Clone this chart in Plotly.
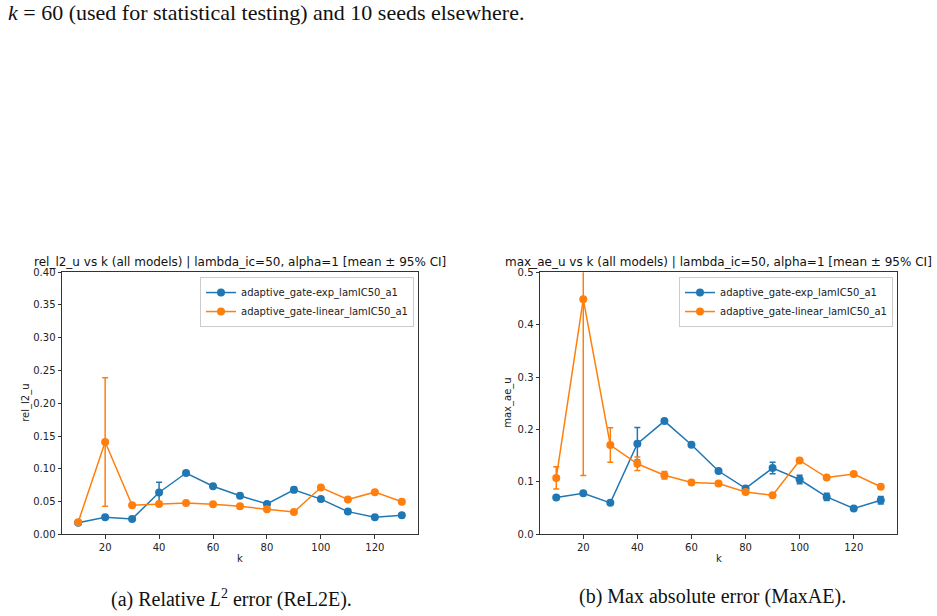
import plotly.graph_objects as go

k = [10, 20, 30, 40, 50, 60, 70, 80, 90, 100, 110, 120, 130]

# rel_l2_u
rel_exp = [0.0176, 0.0262, 0.0236, 0.0639, 0.0936, 0.0734, 0.0589, 0.0463, 0.0679, 0.0538, 0.0347, 0.0262, 0.0292]
rel_exp_err = [0.001, 0.001, 0.001, 0.0156, 0.001, 0.001, 0.001, 0.001, 0.004, 0.003, 0.001, 0.001, 0.001]
rel_lin = [0.0186, 0.1408, 0.0443, 0.0463, 0.0478, 0.0458, 0.0428, 0.0382, 0.0342, 0.0714, 0.0533, 0.0644, 0.0498]
rel_lin_err = [0.001, 0.098, 0.003, 0.001, 0.001, 0.001, 0.001, 0.001, 0.001, 0.002, 0.001, 0.001, 0.001]

# max_ae_u
mae_exp = [0.0701, 0.0783, 0.0601, 0.1728, 0.216, 0.171, 0.1208, 0.0877, 0.1265, 0.1046, 0.0714, 0.0495, 0.0651]
mae_exp_err = [0.002, 0.002, 0.002, 0.031, 0.002, 0.002, 0.002, 0.003, 0.011, 0.008, 0.007, 0.002, 0.007]
mae_lin = [0.1077, 0.4484, 0.1703, 0.1346, 0.1127, 0.0989, 0.0970, 0.0808, 0.0745, 0.1409, 0.1083, 0.1152, 0.0908]
mae_lin_err = [0.021, 0.336, 0.033, 0.013, 0.007, 0.002, 0.002, 0.002, 0.002, 0.002, 0.002, 0.002, 0.002]

names = ["adaptive_gate-exp_lamIC50_a1", "adaptive_gate-linear_lamIC50_a1"]
colors = ["#1f77b4", "#ff7f0e"]

titles = ["rel_l2_u vs k (all models) | lambda_ic=50, alpha=1 [mean ± 95% CI]",
          "max_ae_u vs k (all models) | lambda_ic=50, alpha=1 [mean ± 95% CI]"]
ylabels = ["rel_l2_u", "max_ae_u"]
xticks = [20, 40, 60, 80, 100, 120]
yticks_left = [0.00, 0.05, 0.10, 0.15, 0.20, 0.25, 0.30, 0.35, 0.40]
yticks_right = [0.0, 0.1, 0.2, 0.3, 0.4, 0.5]

W, H = 937, 616
dom_left = [62 / W, 418 / W]
dom_right = [540 / W, 897 / W]
dom_y = [1 - 539 / H, 1 - 272 / H]

fig = go.Figure()

def add(series, errs, xa, ya, legend):
    for i, (y, e) in enumerate(zip(series, errs)):
        fig.add_trace(go.Scatter(
            x=k, y=y, name=names[i], mode="lines+markers",
            xaxis=xa, yaxis=ya, legend=legend,
            line=dict(color=colors[i], width=1.5),
            marker=dict(color=colors[i], size=8),
            error_y=dict(type="data", array=e, color=colors[i], thickness=1.5, width=3),
            cliponaxis=True,
        ))

add([rel_exp, rel_lin], [rel_exp_err, rel_lin_err], "x", "y", "legend")
add([mae_exp, mae_lin], [mae_exp_err, mae_lin_err], "x2", "y2", "legend2")

axis_common = dict(showline=True, mirror=True, linecolor="#333", linewidth=1,
                   ticks="outside", ticklen=3.5, tickcolor="#333", showgrid=False,
                   zeroline=False, tickfont=dict(family="DejaVu Sans", size=10, color="#222"))

legend_common = dict(xanchor="right", yanchor="top",
                     bgcolor="rgba(255,255,255,0.8)", bordercolor="#cccccc", borderwidth=1,
                     font=dict(family="DejaVu Sans", size=10, color="#222"), tracegroupgap=0,
                     itemwidth=30)

fig.update_layout(
    width=W, height=H, margin=dict(l=0, r=0, t=0, b=0),
    paper_bgcolor="white", plot_bgcolor="white",
    showlegend=True,
    xaxis=dict(domain=dom_left, range=[4, 136], tickvals=xticks, anchor="y", **axis_common),
    yaxis=dict(domain=dom_y, range=[0, 0.4], tickvals=yticks_left, tickformat=".2f", anchor="x", **axis_common),
    xaxis2=dict(domain=dom_right, range=[4, 136], tickvals=xticks, anchor="y2", **axis_common),
    yaxis2=dict(domain=dom_y, range=[0, 0.5], tickvals=yticks_right, tickformat=".1f", anchor="x2", **axis_common),
    legend=dict(x=414 / W, y=1 - 277 / H, **legend_common),
    legend2=dict(x=893 / W, y=1 - 277 / H, **legend_common),
)

ann = []
# titles
for cx, t in zip([(62 + 418) / 2, (540 + 897) / 2], titles):
    ann.append(dict(x=cx / W, y=1 - 262 / H, xref="paper", yref="paper", text=t, showarrow=False,
                    font=dict(family="DejaVu Sans", size=12, color="#111"), xanchor="center", yanchor="middle"))
# y labels
for cx, t in zip([26, 508], ylabels):
    ann.append(dict(x=cx / W, y=1 - 405 / H, xref="paper", yref="paper", text=t, showarrow=False, textangle=-90,
                    font=dict(family="DejaVu Sans", size=10, color="#222"), xanchor="center", yanchor="middle"))
# x labels
for cx in [(62 + 418) / 2, (540 + 897) / 2]:
    ann.append(dict(x=cx / W, y=1 - 564 / H, xref="paper", yref="paper", text="k", showarrow=False,
                    font=dict(family="DejaVu Sans", size=10, color="#222"), xanchor="center", yanchor="middle"))
# body text
ann.append(dict(x=6 / W, y=1 - 8 / H, xref="paper", yref="paper",
                text="<i>k</i> = 60 (used for statistical testing) and 10 seeds elsewhere.",
                showarrow=False, xanchor="left", yanchor="middle",
                font=dict(family="Liberation Serif", size=22, color="#111")))
# captions
ann.append(dict(x=231 / W, y=1 - 604 / H, xref="paper", yref="paper",
                text="(a) Relative <i>L</i><sup>2</sup> error (ReL2E).",
                showarrow=False, xanchor="center", yanchor="middle",
                font=dict(family="Liberation Serif", size=20, color="#111")))
ann.append(dict(x=712 / W, y=1 - 602 / H, xref="paper", yref="paper",
                text="(b) Max absolute error (MaxAE).",
                showarrow=False, xanchor="center", yanchor="middle",
                font=dict(family="Liberation Serif", size=20, color="#111")))
fig.update_layout(annotations=ann)

fig.write_html("out.html")
